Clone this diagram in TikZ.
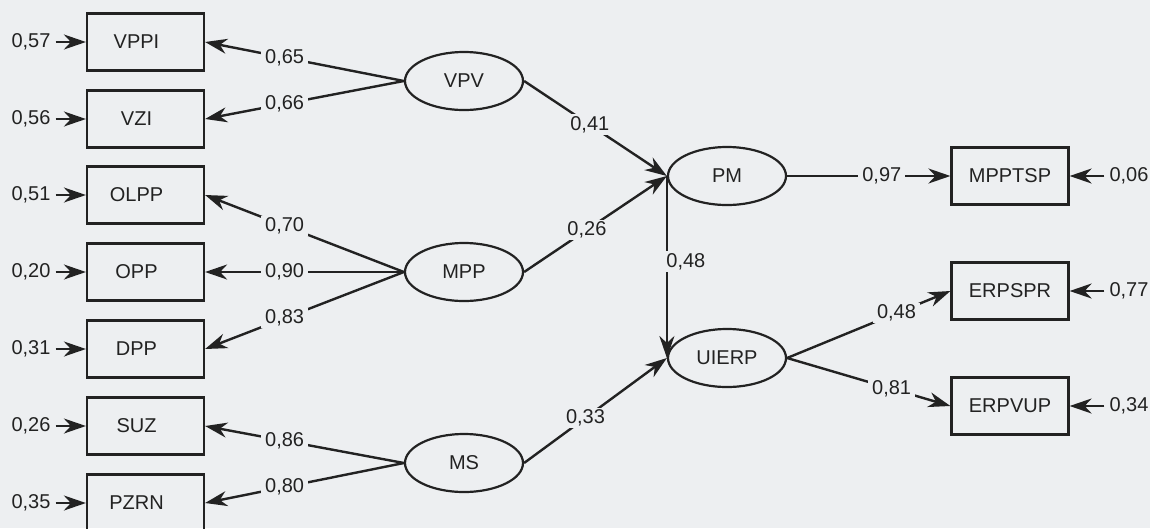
\documentclass[tikz,border=0pt]{standalone}
\usepackage{fontspec}
\setmainfont{Liberation Sans}
\usetikzlibrary{arrows.meta,shapes.geometric}
\definecolor{bg}{HTML}{EDEFF1}
\definecolor{ink}{HTML}{222222}
\begin{document}
\begin{tikzpicture}[x=1pt,y=-1pt,
  font=\fontsize{20}{24}\selectfont,
  box/.style={draw=ink, line width=2.2, minimum width=117, minimum height=57, inner sep=0, text=ink},
  leftbox/.style={box, execute at begin node={\hspace*{-18pt}}},
  lat/.style={draw=ink, ellipse, line width=2.2, minimum width=118, minimum height=58, inner sep=0, text=ink},
  conn/.style={draw=ink, line width=2.4, -{Stealth[length=22,width=15,inset=7]}},
  lab/.style={fill=bg, inner xsep=4, inner ysep=2, text=ink},
  err/.style={inner xsep=5, inner ysep=2, text=ink}]
\fill[bg] (0,0) rectangle (1150,528);
\useasboundingbox (0,0) rectangle (1150,528);

% observed variables (left)
\node[leftbox] (VPPI) at (145.5,42) {VPPI};
\node[leftbox] (VZI)  at (145.5,119) {VZI};
\node[leftbox] (OLPP) at (145.5,195) {OLPP};
\node[leftbox] (OPP)  at (145.5,272) {OPP};
\node[leftbox] (DPP)  at (145.5,349) {DPP};
\node[leftbox] (SUZ)  at (145.5,426) {SUZ};
\node[leftbox] (PZRN) at (145.5,503) {PZRN};

% error terms (left)
\node[err] (e1) at (31,42)  {0,57};
\node[err] (e2) at (31,119) {0,56};
\node[err] (e3) at (31,195) {0,51};
\node[err] (e4) at (31,272) {0,20};
\node[err] (e5) at (31,349) {0,31};
\node[err] (e6) at (31,426) {0,26};
\node[err] (e7) at (31,503) {0,35};
\foreach \e/\b in {e1/VPPI,e2/VZI,e3/OLPP,e4/OPP,e5/DPP,e6/SUZ,e7/PZRN}
  \draw[conn] (\e.east) -- (\b.west);

% latent variables
\node[lat] (VPV) at (464,81) {VPV};
\node[lat] (MPP) at (464,272) {MPP};
\node[lat] (MS)  at (464,463) {MS};
\node[lat] (PM)  at (727,176) {PM};
\node[lat] (UIERP) at (727,358) {UIERP};

% observed variables (right)
\node[box] (MPPTSP) at (1010,176) {MPPTSP};
\node[box] (ERPSPR) at (1010,291) {ERPSPR};
\node[box] (ERPVUP) at (1010,406) {ERPVUP};

\node[err] (r1) at (1129,176) {0,06};
\node[err] (r2) at (1129,291) {0,77};
\node[err] (r3) at (1129,406) {0,34};
\foreach \e/\b in {r1/MPPTSP,r2/ERPSPR,r3/ERPVUP}
  \draw[conn] (\e.west) -- (\b.east);

% loadings
\draw[conn] (VPV.west) -- node[lab,pos=0.6] {0,65} (VPPI.east);
\draw[conn] (VPV.west) -- node[lab,pos=0.6] {0,66} (VZI.east);
\draw[conn] (MPP.west) -- node[lab,pos=0.6] {0,70} (OLPP.east);
\draw[conn] (MPP.west) -- node[lab,pos=0.6] {0,90} (OPP.east);
\draw[conn] (MPP.west) -- node[lab,pos=0.6] {0,83} (DPP.east);
\draw[conn] (MS.west) -- node[lab,pos=0.6] {0,86} (SUZ.east);
\draw[conn] (MS.west) -- node[lab,pos=0.6] {0,80} (PZRN.east);

% structural paths
\draw[conn] (VPV.east) -- node[lab,pos=0.46] {0,41} (PM.west);
\draw[conn] (MPP.east) -- node[lab,pos=0.44] {0,26} (PM.west);
\draw[conn] (MS.east) -- node[lab,pos=0.43] {0,33} (UIERP.west);
\draw[conn] (PM.west) -- node[lab,pos=0.47,xshift=19] {0,48} (UIERP.west);
\draw[conn] (PM.east) -- node[lab,pos=0.58] {0,97} (MPPTSP.west);
\draw[conn] (UIERP.east) -- node[lab,pos=0.67] {0,48} (ERPSPR.west);
\draw[conn] (UIERP.east) -- node[lab,pos=0.64] {0,81} (ERPVUP.west);
\end{tikzpicture}
\end{document}
